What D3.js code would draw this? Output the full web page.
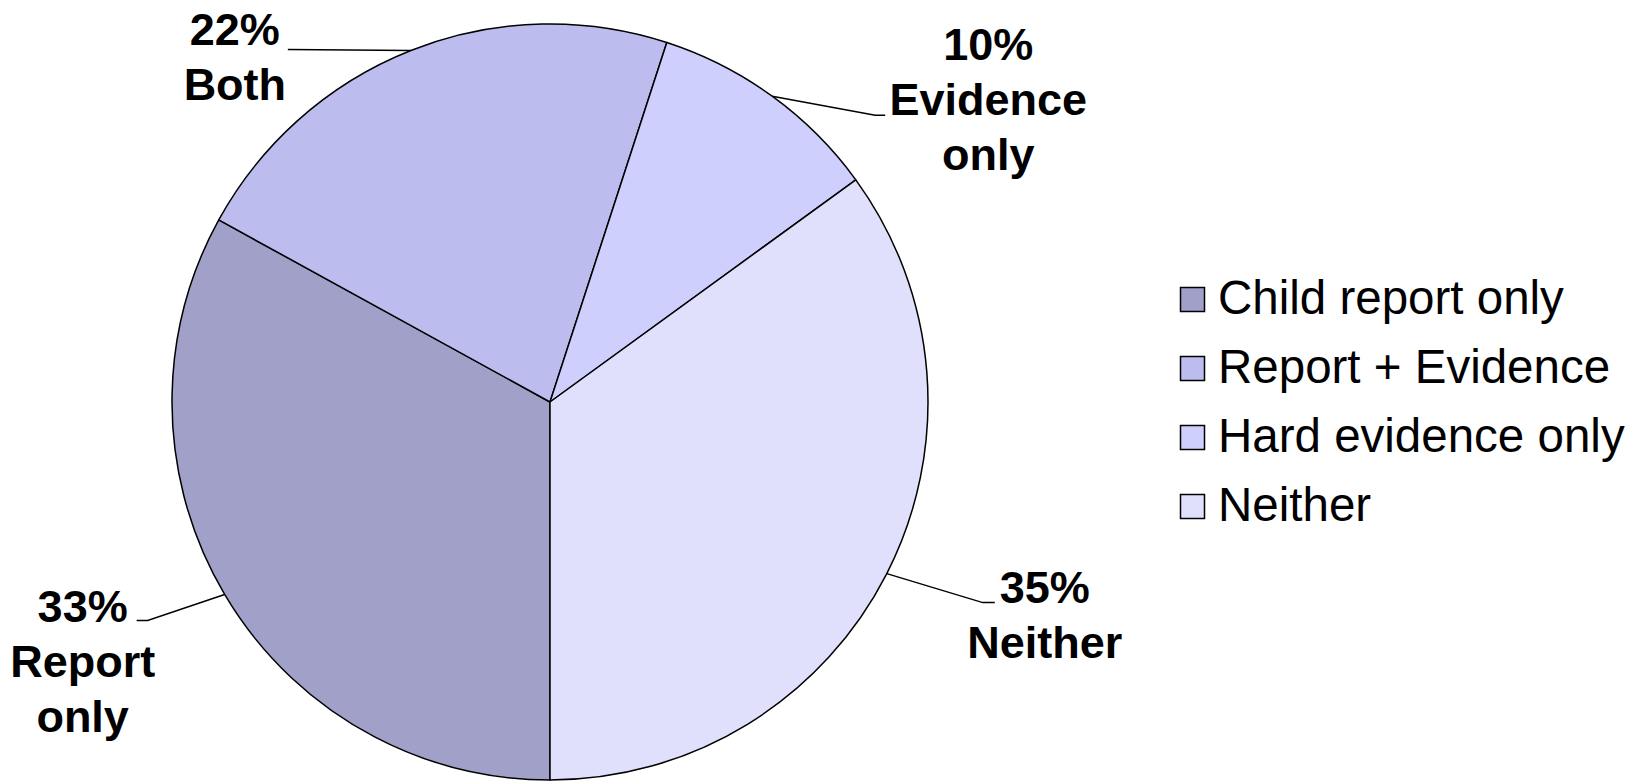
<!DOCTYPE html>
<html>
<head>
<meta charset="utf-8">
<script src="https://cdn.jsdelivr.net/npm/d3@7"></script>
<style>
  body { margin: 0; background: #fff; }
  svg { display: block; }
</style>
</head>
<body>
<div id="chart"></div>
<script>
// data
const categories = ["Child report only", "Report + Evidence", "Hard evidence only", "Neither"]
const values = [33, 22, 10, 35]
const labelNames = [["Report", "only"], ["Both"], ["Evidence", "only"], ["Neither"]]
const colors = ["#a0a0c8", "#bcbcee", "#cfcffd", "#e0e0fc"]

// label placement, relative to the point where the leader meets the pie edge
const labelLayout = [
    { elbow: [-77, 26], end: [-88, 26], text: [-142, 28] },
    { elbow: [-123, -1], end: [-123, -1], text: [-176, -6] },
    { elbow: [103, 19], end: [113, 19], text: [216, -36] },
    { elbow: [96, 29], end: [108, 29], text: [158, 29] }
]

const width = 1642, height = 782
const cx = 550, cy = 402, radius = 378

const svg = d3.select('#chart')
    .append('svg')
    .attr('width', width)
    .attr('height', height)

const pie = d3.pie()
    .sort(null)
    .startAngle(Math.PI)
    .endAngle(3 * Math.PI)
const arcs = pie(values)
const arc = d3.arc().innerRadius(0).outerRadius(radius)

const g = svg.append("g").attr("transform", `translate(${cx},${cy})`)

g.selectAll("path")
    .data(arcs)
    .join("path")
    .attr("fill", (d, i) => colors[i])
    .attr("stroke", "#000")
    .attr("stroke-width", 1.5)
    .attr("stroke-linejoin", "round")
    .attr("d", arc)

const edge = d => {
    const a = (d.startAngle + d.endAngle) / 2
    return [radius * Math.sin(a), -radius * Math.cos(a)]
}

const labels = g.append("g")
    .selectAll("g")
    .data(arcs)
    .join("g")

labels.append("polyline")
    .attr("fill", "none")
    .attr("stroke", "#000")
    .attr("stroke-width", 1.5)
    .attr("points", (d, i) => {
        const [x, y] = edge(d)
        const L = labelLayout[i]
        return [[x, y], [x + L.elbow[0], y + L.elbow[1]], [x + L.end[0], y + L.end[1]]].join(" ")
    })

labels.append("text")
    .attr("font-family", "'Liberation Sans', Arial, sans-serif")
    .attr("font-weight", "bold")
    .attr("font-size", 45)
    .attr("text-anchor", "middle")
    .each(function (d, i) {
        const [x, y] = edge(d)
        const L = labelLayout[i]
        const lines = [d3.format(".0f")(d.value) + "%"].concat(labelNames[i])
        d3.select(this).selectAll("tspan")
            .data(lines)
            .join("tspan")
            .attr("x", x + L.text[0])
            .attr("y", (t, j) => y + L.text[1] + j * 55)
            .text(t => t)
    })

// legend
const legend = svg.append("g")
    .attr("transform", "translate(1180,314)")
    .selectAll("g")
    .data(categories)
    .join("g")
    .attr("transform", (d, i) => `translate(0,${i * 69})`)

legend.append("rect")
    .attr("x", 0.5)
    .attr("y", -26.5)
    .attr("width", 24)
    .attr("height", 24)
    .attr("fill", (d, i) => colors[i])
    .attr("stroke", "#000")
    .attr("stroke-width", 1.5)

legend.append("text")
    .attr("x", 38)
    .attr("font-family", "'Liberation Sans', Arial, sans-serif")
    .attr("font-size", 47.5)
    .text(d => d)
</script>
</body>
</html>
